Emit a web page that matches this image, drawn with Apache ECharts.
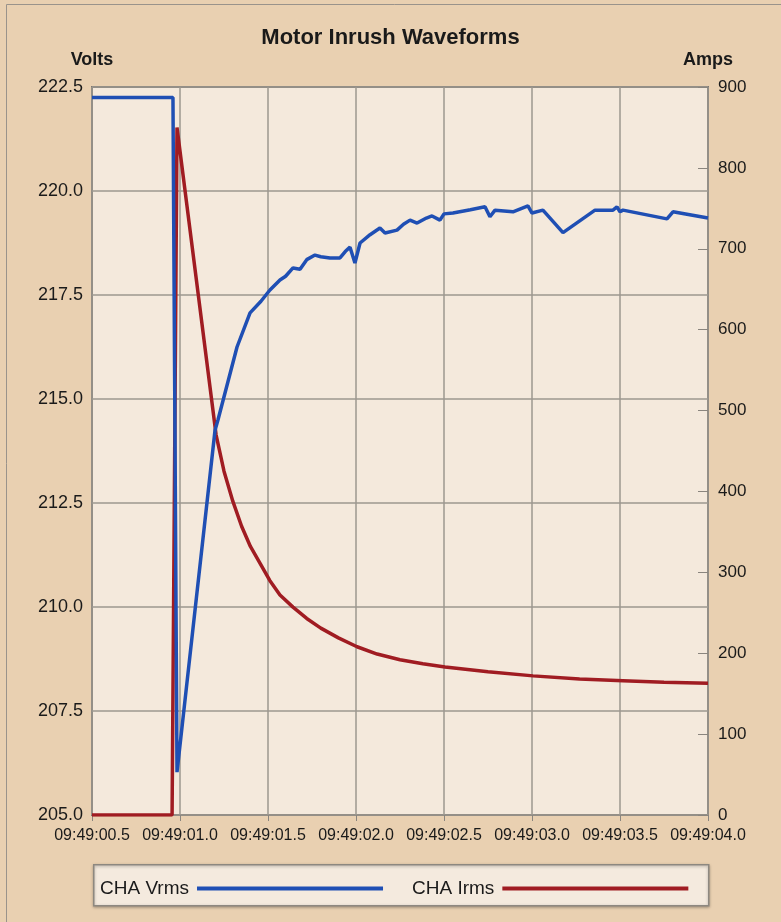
<!DOCTYPE html>
<html>
<head>
<meta charset="utf-8">
<script src="https://cdn.jsdelivr.net/npm/echarts@6/dist/echarts.min.js"></script>
<style>
html,body{margin:0;padding:0;background:#e9d0b1;}
#chart{width:781px;height:922px;}
</style>
</head>
<body>
<div id="chart"></div>
<script>
// Time in seconds after 09:49:00
const vrmsTimes = [0.5, 0.96, 0.983, 1.199, 1.216, 1.324, 1.398, 1.46, 1.511, 1.568, 1.60, 1.642, 1.682, 1.72, 1.767, 1.80, 1.852, 1.909, 1.94, 1.966, 1.994, 2.023, 2.08, 2.136, 2.165, 2.233, 2.27, 2.307, 2.347, 2.40, 2.432, 2.477, 2.50, 2.551, 2.65, 2.733, 2.761, 2.790, 2.892, 2.977, 3.0, 3.062, 3.176, 3.358, 3.460, 3.483, 3.5, 3.517, 3.767, 3.801, 4.0];
const vrmsValues = [222.25, 222.25, 206.03, 214.25, 214.5, 216.25, 217.07, 217.35, 217.62, 217.86, 217.95, 218.15, 218.12, 218.35, 218.46, 218.42, 218.39, 218.39, 218.55, 218.65, 218.27, 218.75, 218.95, 219.11, 218.99, 219.06, 219.2, 219.30, 219.23, 219.35, 219.4, 219.3, 219.45, 219.47, 219.55, 219.62, 219.38, 219.54, 219.5, 219.64, 219.47, 219.54, 219.0, 219.54, 219.54, 219.62, 219.5, 219.54, 219.33, 219.5, 219.35];

const irmsTimes = [0.5, 0.955, 0.983, 1.205, 1.25, 1.30, 1.35, 1.40, 1.455, 1.51, 1.568, 1.642, 1.72, 1.80, 1.90, 2.006, 2.12, 2.25, 2.38, 2.506, 2.75, 3.006, 3.27, 3.517, 3.75, 4.0];
const irmsValues = [0, 0, 850, 470, 425, 388, 357, 332, 311, 290, 272, 257, 243, 231, 219, 208, 199, 192, 187, 183, 177, 172, 168, 166, 164, 163];

const xTicks = {min: 0.5, max: 4.0, interval: 0.5};
const voltTicks = {min: 205, max: 222.5, interval: 2.5};
const ampTicks = {min: 0, max: 900, interval: 100};

const titleText = 'Motor Inrush Waveforms';
const seriesNames = ['CHA Vrms', 'CHA Irms'];

const FONT = "'Liberation Sans', Arial, sans-serif";

const chart = echarts.init(document.getElementById('chart'));
const vData = vrmsTimes.map((t, i) => [t, vrmsValues[i]]);
const iData = irmsTimes.map((t, i) => [t, irmsValues[i]]);

chart.setOption({
  backgroundColor: '#e9d0b1',
  animation: false,
  textStyle: {fontFamily: FONT},
  title: {
    text: titleText, left: 'center', top: 22,
    textStyle: {fontFamily: FONT, fontWeight: 'bold', fontSize: 22, color: '#1a1a1a'}
  },
  graphic: [
    {type: 'rect', left: 4, top: 2, shape: {width: 776, height: 918}, style: {fill: 'none', stroke: '#9a938b', lineWidth: 1}, silent: true},
    {type: 'rect', left: 93, top: 864, shape: {width: 615, height: 41}, style: {fill: '#f4eade', stroke: '#8d8880', lineWidth: 1.5, shadowBlur: 3, shadowColor: 'rgba(0,0,0,0.3)', shadowOffsetY: 1}, silent: true, z: 0}
  ],
  grid: {left: 92, right: 73, top: 87, bottom: 107, show: true, backgroundColor: '#f4e9dc', borderColor: '#7d7770', borderWidth: 2},
  legend: {
    data: seriesNames, left: 95, top: 874, align: 'right', itemWidth: 186, itemHeight: 4, itemGap: 29,
    icon: 'rect',
    textStyle: {fontFamily: FONT, fontSize: 19, color: '#1a1a1a', padding: [0, 3, 0, 0]}
  },
  xAxis: {
    type: 'value', min: xTicks.min, max: xTicks.max, interval: xTicks.interval,
    axisLine: {show: false},
    axisTick: {show: true, length: 6, lineStyle: {color: '#8a857e'}},
    splitLine: {show: true, lineStyle: {color: '#9d978f', width: 1.5}},
    axisLabel: {
      margin: 13, fontFamily: FONT, fontSize: 16, color: '#1a1a1a',
      showMinLabel: true, showMaxLabel: true, hideOverlap: false,
      formatter: v => '09:49:' + (v < 10 ? '0' : '') + v.toFixed(1)
    }
  },
  yAxis: [
    {
      type: 'value', name: 'Volts', nameLocation: 'end', nameGap: 18,
      nameTextStyle: {fontFamily: FONT, fontWeight: 'bold', fontSize: 18, color: '#1a1a1a', align: 'center'},
      min: voltTicks.min, max: voltTicks.max, interval: voltTicks.interval,
      axisLine: {show: false}, axisTick: {show: false},
      splitLine: {show: true, lineStyle: {color: '#9d978f', width: 1.5}},
      axisLabel: {margin: 9, fontFamily: FONT, fontSize: 18, color: '#1a1a1a', formatter: v => v.toFixed(1)}
    },
    {
      type: 'value', name: 'Amps', nameLocation: 'end', nameGap: 18, position: 'right',
      nameTextStyle: {fontFamily: FONT, fontWeight: 'bold', fontSize: 18, color: '#1a1a1a', align: 'center'},
      min: ampTicks.min, max: ampTicks.max, interval: ampTicks.interval,
      axisLine: {show: false},
      axisTick: {show: true, inside: true, length: 10, lineStyle: {color: '#8a857e'}},
      splitLine: {show: false},
      axisLabel: {margin: 10, fontFamily: FONT, fontSize: 17, color: '#1a1a1a'}
    }
  ],
  series: [
    {name: seriesNames[0], type: 'line', yAxisIndex: 0, data: vData, showSymbol: false, lineStyle: {color: '#1f4fb4', width: 3.5}, itemStyle: {color: '#1f4fb4'}, z: 3},
    {name: seriesNames[1], type: 'line', yAxisIndex: 1, data: iData, showSymbol: false, lineStyle: {color: '#a01c22', width: 3.5}, itemStyle: {color: '#a01c22'}, z: 2}
  ]
});
</script>
</body>
</html>
